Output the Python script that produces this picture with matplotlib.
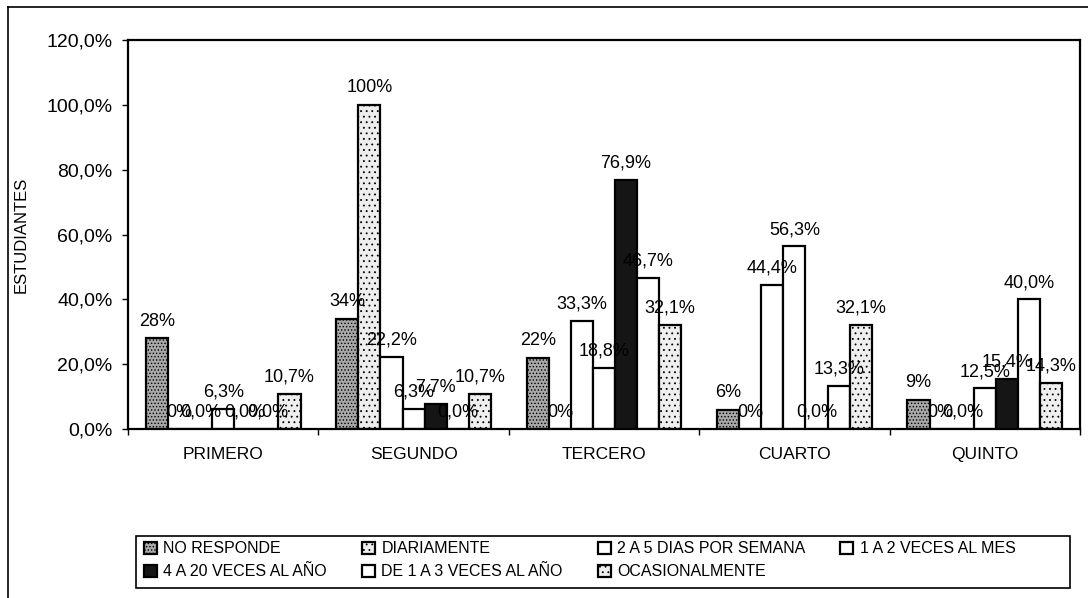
import matplotlib
matplotlib.use('Agg')
import matplotlib.pyplot as plt
from matplotlib.lines import Line2D
from matplotlib.patches import Rectangle
from matplotlib.ticker import FixedLocator, FuncFormatter
import numpy as np

# datos
categorias = ['PRIMERO', 'SEGUNDO', 'TERCERO', 'CUARTO', 'QUINTO']
series = ['NO RESPONDE', 'DIARIAMENTE', '2 A 5 DIAS POR SEMANA', '1 A 2 VECES AL MES',
          '4 A 20 VECES AL AÑO', 'DE 1 A 3 VECES AL AÑO', 'OCASIONALMENTE']
no_responde = [28, 34, 22, 6, 9]
diariamente = [0, 100, 0, 0, 0]
dias_2a5 = [0.0, 22.2, 33.3, 44.4, 0.0]
mes_1a2 = [6.3, 6.3, 18.8, 56.3, 12.5]
anio_4a20 = [0.0, 7.7, 76.9, 0.0, 15.4]
anio_1a3 = [0.0, 0.0, 46.7, 13.3, 40.0]
ocasional = [10.7, 10.7, 32.1, 32.1, 14.3]
valores = [no_responde, diariamente, dias_2a5, mes_1a2, anio_4a20, anio_1a3, ocasional]
decimales = [0, 0, 1, 1, 1, 1, 1]

# estilos (relleno, trama)
estilos = [('#a8a8a8', '.....'), ('#eeeeee', '...'), ('white', None), ('white', None),
           ('#151515', None), ('white', None), ('#efefef', '...')]

plt.rcParams['font.family'] = ['Liberation Sans', 'DejaVu Sans']
plt.rcParams['hatch.linewidth'] = 0.6

fig = plt.figure(figsize=(10.88, 5.98), dpi=100)
ax = fig.add_axes([128 / 1088, 1 - 429 / 598, 952 / 1088, 389 / 598])

x = np.arange(len(categorias))
ancho = 0.116
handles = []
for i, (nombre, vals) in enumerate(zip(series, valores)):
    cara, trama = estilos[i]
    pos = x + (i - 3) * ancho
    barras = ax.bar(pos, vals, ancho, color=cara, edgecolor='black', linewidth=1.6,
                    hatch=trama, label=nombre, zorder=2)
    handles.append(barras)
    # etiquetas de valor (se solapan igual que en el original)
    for p, v in zip(pos, vals):
        txt = ('{:.%df}%%' % decimales[i]).format(v).replace('.', ',')
        ax.annotate(txt, (p, v), xytext=(0, 6), textcoords='offset points',
                    ha='center', va='bottom', fontsize=13, zorder=3)

ax.set_xlim(-0.5, len(categorias) - 0.5)
ax.set_ylim(0, 120)
ax.set_yticks(np.arange(0, 121, 20))
ax.yaxis.set_major_formatter(FuncFormatter(lambda v, _: ('%.1f%%' % v).replace('.', ',')))
ax.tick_params(axis='y', labelsize=14, length=4, width=1, pad=7, direction='out')

ax.set_xticks(x)
ax.set_xticklabels(categorias, fontsize=12.5)
ax.xaxis.set_minor_locator(FixedLocator(np.arange(-0.5, len(categorias), 1.0)))
ax.tick_params(axis='x', which='major', length=0, pad=13)
ax.tick_params(axis='x', which='minor', length=4, width=1, direction='out')

for s in ax.spines.values():
    s.set_linewidth(1.6)
    s.set_color('black')

ax.set_ylabel('ESTUDIANTES', fontsize=12)
ax.yaxis.set_label_coords(-0.104, 0.5)

# leyenda en filas (orden como en Excel)
orden = [0, 4, 1, 5, 2, 6, 3]
leg = fig.legend([handles[k] for k in orden], [series[k] for k in orden],
                 loc='upper left', ncol=4, frameon=False,
                 bbox_to_anchor=(141 / 1088, 1 - 538 / 598),
                 prop={'size': 11.5}, columnspacing=2.2,
                 handlelength=0.8, handleheight=0.8, handletextpad=0.4,
                 borderpad=0.2, labelspacing=0.5, borderaxespad=0)
fig.add_artist(Rectangle((136 / 1088, 1 - 588 / 598), 934 / 1088, 52 / 598,
                         fill=False, edgecolor='black', linewidth=1.2,
                         transform=fig.transFigure))

# marco exterior
fig.add_artist(Line2D([8 / 1088, 1], [1 - 7 / 598, 1 - 7 / 598], color='black',
                      linewidth=1.2, transform=fig.transFigure))
fig.add_artist(Line2D([8 / 1088, 8 / 1088], [0, 1 - 7 / 598], color='black',
                      linewidth=1.2, transform=fig.transFigure))

fig.savefig('out.png', dpi=100)
